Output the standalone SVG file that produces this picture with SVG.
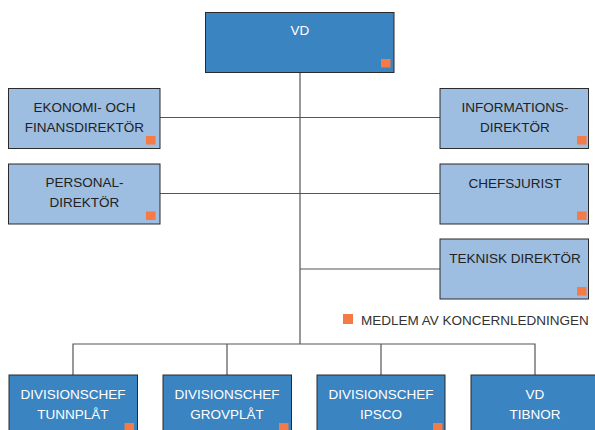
<svg xmlns="http://www.w3.org/2000/svg" width="595" height="430" viewBox="0 0 595 430">
<style>
.dk{fill:#3a84c2;stroke:#2b2b2b;stroke-width:1}
.lt{fill:#9dbde1;stroke:#2b2b2b;stroke-width:1}
.sq{fill:#f47b45}
.t{font-family:"Liberation Sans",Arial,sans-serif;font-size:13.5px;text-anchor:middle;fill:#222}
.w{fill:#ffffff}
.ln{stroke:#555;stroke-width:1.2;fill:none}
</style>
<g id="connectors">
<path class="ln" d="M300,72 V344 M160,117.5 H440 M160,193.5 H440 M300,269 H440 M73,375 V344 H535 V375 M227,344 V375 M381,344 V375"/>
</g>
<g id="vd">
<rect class="dk" x="205.5" y="12.5" width="188.5" height="60"/>
<text class="t w" x="300" y="35">VD</text>
<rect class="sq" x="381" y="59" width="9.5" height="8.5"/>
</g>
<g id="ekonomi">
<rect class="lt" x="8.5" y="88.5" width="151.5" height="60"/>
<text class="t" x="84.5" y="111.5">EKONOMI- OCH</text>
<text class="t" x="84.5" y="131.5">FINANSDIREKTÖR</text>
<rect class="sq" x="146" y="136" width="9.5" height="8.5"/>
</g>
<g id="personal">
<rect class="lt" x="8.5" y="164" width="151.5" height="60"/>
<text class="t" x="84.5" y="187">PERSONAL-</text>
<text class="t" x="84.5" y="207">DIREKTÖR</text>
<rect class="sq" x="146" y="211.5" width="9.5" height="8.5"/>
</g>
<g id="informations">
<rect class="lt" x="440" y="88.5" width="148.5" height="60"/>
<text class="t" x="515" y="111.5">INFORMATIONS-</text>
<text class="t" x="515" y="131.5">DIREKTÖR</text>
<rect class="sq" x="577" y="136" width="9.5" height="8.5"/>
</g>
<g id="chefsjurist">
<rect class="lt" x="440" y="164" width="148.5" height="60"/>
<text class="t" x="515" y="187.5">CHEFSJURIST</text>
<rect class="sq" x="577" y="211.5" width="9.5" height="8.5"/>
</g>
<g id="teknisk">
<rect class="lt" x="440" y="239" width="148.5" height="60"/>
<text class="t" x="515" y="263">TEKNISK DIREKTÖR</text>
<rect class="sq" x="577" y="287" width="9.5" height="8.5"/>
</g>
<g id="legend">
<rect class="sq" x="343" y="314" width="10" height="10"/>
<text class="t" x="361" y="324.5" style="text-anchor:start;fill:#333">MEDLEM AV KONCERNLEDNINGEN</text>
</g>
<g id="tunnplat">
<rect class="dk" x="9" y="375" width="128.5" height="60"/>
<text class="t w" x="73" y="399">DIVISIONSCHEF</text>
<text class="t w" x="73" y="419">TUNNPLÅT</text>
<rect class="sq" x="124.5" y="423" width="9.5" height="9"/>
</g>
<g id="grovplat">
<rect class="dk" x="163" y="375" width="128.5" height="60"/>
<text class="t w" x="227" y="399">DIVISIONSCHEF</text>
<text class="t w" x="227" y="419">GROVPLÅT</text>
<rect class="sq" x="279" y="423" width="9.5" height="9"/>
</g>
<g id="ipsco">
<rect class="dk" x="317" y="375" width="128" height="60"/>
<text class="t w" x="381" y="399">DIVISIONSCHEF</text>
<text class="t w" x="381" y="419">IPSCO</text>
<rect class="sq" x="433" y="423" width="9.5" height="9"/>
</g>
<g id="tibnor">
<rect class="dk" x="471" y="375" width="128" height="60"/>
<text class="t w" x="535" y="399">VD</text>
<text class="t w" x="535" y="419">TIBNOR</text>
</g>
</svg>
